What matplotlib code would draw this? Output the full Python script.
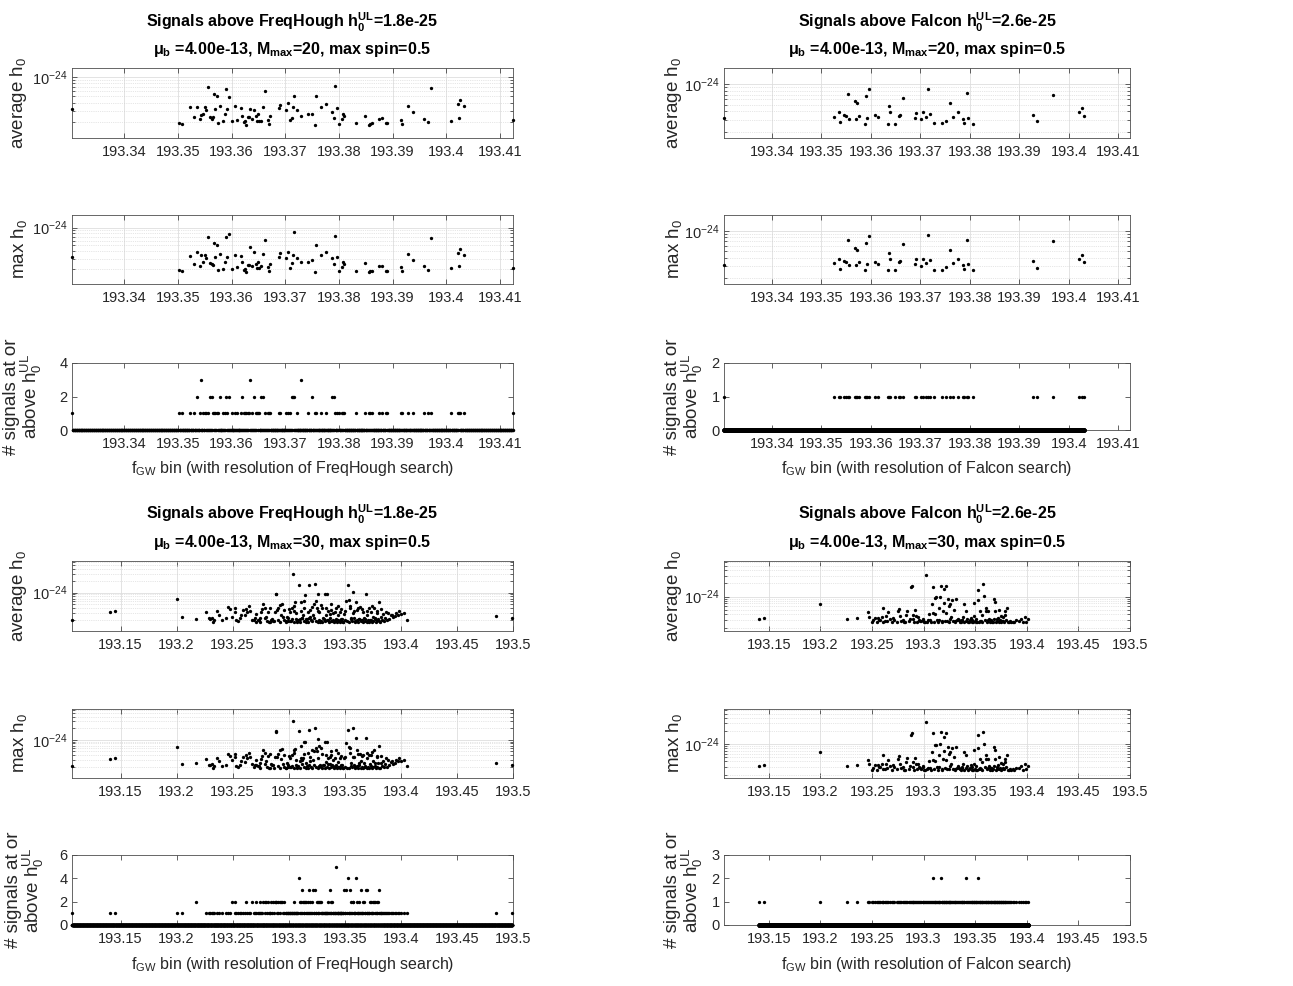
"""
Signals above the FreqHough / Falcon upper limits, per frequency bin
"""

import numpy as np
import matplotlib.pyplot as plt
from matplotlib.ticker import FixedLocator, LogLocator, LogFormatterMathtext, NullFormatter
from matplotlib.transforms import ScaledTranslation

plt.rcParams['font.family'] = ['Liberation Sans', 'DejaVu Sans']
plt.rcParams['mathtext.fontset'] = 'custom'
plt.rcParams['mathtext.rm'] = 'Liberation Sans'
plt.rcParams['mathtext.it'] = 'Liberation Sans:italic'
plt.rcParams['mathtext.bf'] = 'Liberation Sans:bold'
plt.rcParams['mathtext.default'] = 'regular'

# ---------------- FreqHough, M_max = 20 (log10 h0) ----------------
fh20_freq = [193.3303, 193.3502, 193.3508, 193.3523, 193.3530, 193.3536, 193.3541, 193.3544, 193.3547, 193.3551,
             193.3553, 193.3556, 193.3560, 193.3563, 193.3565, 193.3568, 193.3570, 193.3573, 193.3575, 193.3578,
             193.3585, 193.3587, 193.3590, 193.3592, 193.3596, 193.3600, 193.3607, 193.3610, 193.3617, 193.3620,
             193.3623, 193.3626, 193.3627, 193.3630, 193.3632, 193.3635, 193.3638, 193.3642, 193.3645, 193.3647,
             193.3650, 193.3651, 193.3654, 193.3658, 193.3663, 193.3667, 193.3670, 193.3672, 193.3689, 193.3691,
             193.3702, 193.3705, 193.3709, 193.3712, 193.3714, 193.3717, 193.3721, 193.3730, 193.3743, 193.3750,
             193.3756, 193.3758, 193.3767, 193.3775, 193.3787, 193.3790, 193.3793, 193.3797, 193.3800, 193.3805,
             193.3807, 193.3810, 193.3832, 193.3849, 193.3855, 193.3857, 193.3861, 193.3875, 193.3880, 193.3888,
             193.3890, 193.3915, 193.3917, 193.3928, 193.3937, 193.3959, 193.3966, 193.3971, 193.4009, 193.4021,
             193.4023, 193.4025, 193.4033, 193.4124]
fh20_avg = [-24.493, -24.714, -24.735, -24.472, -24.619, -24.472, -24.651, -24.593, -24.577, -24.467,
            -24.509, -24.152, -24.625, -24.651, -24.630, -24.257, -24.493, -24.289, -24.719, -24.457,
            -24.693, -24.577, -24.184, -24.493, -24.310, -24.693, -24.457, -24.672, -24.483, -24.604,
            -24.709, -24.693, -24.745, -24.625, -24.630, -24.499, -24.651, -24.509, -24.609, -24.688,
            -24.577, -24.688, -24.682, -24.462, -24.210, -24.667, -24.735, -24.614, -24.488, -24.430,
            -24.514, -24.409, -24.677, -24.646, -24.472, -24.289, -24.509, -24.609, -24.572, -24.572,
            -24.745, -24.289, -24.467, -24.415, -24.541, -24.640, -24.136, -24.488, -24.735, -24.656,
            -24.583, -24.614, -24.724, -24.604, -24.745, -24.735, -24.724, -24.651, -24.640, -24.724,
            -24.724, -24.667, -24.735, -24.446, -24.541, -24.651, -24.709, -24.168, -24.688, -24.420,
            -24.646, -24.362, -24.457, -24.677]
fh20_max = [-24.493, -24.714, -24.735, -24.472, -24.619, -24.419, -24.651, -24.458, -24.577, -24.467,
            -24.509, -24.152, -24.600, -24.620, -24.630, -24.257, -24.493, -24.289, -24.719, -24.440,
            -24.693, -24.577, -24.160, -24.493, -24.101, -24.693, -24.457, -24.672, -24.483, -24.580,
            -24.709, -24.693, -24.745, -24.625, -24.630, -24.335, -24.651, -24.413, -24.609, -24.688,
            -24.577, -24.688, -24.648, -24.440, -24.210, -24.667, -24.735, -24.614, -24.488, -24.430,
            -24.514, -24.409, -24.677, -24.598, -24.460, -24.078, -24.509, -24.581, -24.572, -24.542,
            -24.745, -24.289, -24.467, -24.415, -24.514, -24.615, -24.136, -24.488, -24.735, -24.656,
            -24.583, -24.614, -24.724, -24.604, -24.745, -24.735, -24.724, -24.651, -24.640, -24.724,
            -24.724, -24.667, -24.735, -24.446, -24.541, -24.651, -24.709, -24.168, -24.688, -24.420,
            -24.646, -24.362, -24.457, -24.677]
fh20_count = [1, 1, 1, 1, 1, 2, 1, 3, 1, 1,
              1, 1, 2, 2, 1, 1, 1, 1, 1, 2,
              1, 1, 2, 1, 2, 1, 1, 1, 1, 2,
              1, 1, 1, 1, 1, 3, 1, 2, 1, 1,
              1, 1, 2, 2, 1, 1, 1, 1, 1, 1,
              1, 1, 1, 2, 2, 2, 1, 3, 1, 2,
              1, 1, 1, 1, 2, 2, 1, 1, 1, 1,
              1, 1, 1, 1, 1, 1, 1, 1, 1, 1,
              1, 1, 1, 1, 1, 1, 1, 1, 1, 1,
              1, 1, 1, 1]

# ---------------- Falcon, M_max = 20 (one signal per bin: max = avg) ----------------
fa20_freq = [193.3303, 193.3525, 193.3536, 193.3538, 193.3546, 193.3550, 193.3554, 193.3556, 193.3567, 193.3571,
             193.3569, 193.3577, 193.3588, 193.3590, 193.3592, 193.3597, 193.3608, 193.3615, 193.3635, 193.3637,
             193.3639, 193.3649, 193.3657, 193.3659, 193.3664, 193.3689, 193.3691, 193.3701, 193.3705, 193.3712,
             193.3716, 193.3720, 193.3728, 193.3743, 193.3751, 193.3759, 193.3767, 193.3776, 193.3786, 193.3788,
             193.3794, 193.3797, 193.3807, 193.3928, 193.3936, 193.3969, 193.4020, 193.4026, 193.4031]
fa20_avg = [-24.501, -24.476, -24.416, -24.560, -24.451, -24.461, -24.139, -24.506, -24.248, -24.278,
            -24.506, -24.461, -24.580, -24.174, -24.491, -24.079, -24.456, -24.486, -24.580, -24.327,
            -24.412, -24.580, -24.466, -24.446, -24.198, -24.491, -24.426, -24.516, -24.412, -24.481,
            -24.069, -24.436, -24.575, -24.575, -24.535, -24.283, -24.476, -24.412, -24.511, -24.570,
            -24.129, -24.491, -24.585, -24.451, -24.545, -24.154, -24.416, -24.357, -24.461]
fa20_max = fa20_avg
fa20_count = [1] * 49

# ---------------- FreqHough, M_max = 30 ----------------
fh30_freq = [193.1067, 193.1408, 193.1450, 193.1999, 193.2052, 193.2177, 193.2266, 193.2289, 193.2301, 193.2313,
             193.2325, 193.2331, 193.2361, 193.2408, 193.2444, 193.2461, 193.2473, 193.2494, 193.2518, 193.2533,
             193.2550, 193.2568, 193.2592, 193.2607, 193.2616, 193.2628, 193.2645, 193.2669, 193.2711, 193.2726,
             193.2740, 193.2755, 193.2770, 193.2785, 193.2800, 193.2815, 193.2823, 193.2844, 193.2859, 193.2874,
             193.2883, 193.2889, 193.2895, 193.2907, 193.2918, 193.2933, 193.2942, 193.2954, 193.2972, 193.2984,
             193.2996, 193.3007, 193.3019, 193.3031, 193.3037, 193.3049, 193.3058, 193.3067, 193.3076, 193.3088,
             193.3096, 193.3105, 193.3114, 193.3126, 193.3135, 193.3144, 193.3156, 193.3168, 193.3180, 193.3185,
             193.3194, 193.3203, 193.3215, 193.3230, 193.3239, 193.3245, 193.3251, 193.3263, 193.3272, 193.3280,
             193.3292, 193.3304, 193.3319, 193.3328, 193.3334, 193.3343, 193.3352, 193.3364, 193.3375, 193.3387,
             193.3399, 193.3411, 193.3423, 193.3435, 193.3447, 193.3458, 193.3470, 193.3482, 193.3494, 193.3512,
             193.3527, 193.3536, 193.3547, 193.3559, 193.3571, 193.3577, 193.3589, 193.3601, 193.3613, 193.3625,
             193.3636, 193.3648, 193.3660, 193.3672, 193.3690, 193.3702, 193.3714, 193.3726, 193.3737, 193.3749,
             193.3761, 193.3773, 193.3785, 193.3797, 193.3809, 193.3820, 193.3838, 193.3862, 193.3886, 193.3909,
             193.3933, 193.3957, 193.3987, 193.4004, 193.4028, 193.4052, 193.4847, 193.4995]
fh30_avg = [-24.695, -24.502, -24.469, -24.176, -24.619, -24.669, -24.502, -24.653, -24.669, -24.636,
            -24.736, -24.695, -24.477, -24.695, -24.653, -24.360, -24.418, -24.619, -24.502, -24.695,
            -24.720, -24.653, -24.444, -24.569, -24.418, -24.485, -24.335, -24.695, -24.736, -24.695,
            -24.653, -24.502, -24.301, -24.402, -24.611, -24.485, -24.736, -24.695, -24.720, -24.485,
            -24.050, -24.025, -24.444, -24.402, -24.318, -24.569, -24.301, -24.444, -24.736, -24.611,
            -24.720, -24.485, -24.711, -24.385, -23.523, -24.469, -24.234, -24.527, -24.736, -23.799,
            -24.669, -24.234, -24.636, -24.569, -24.218, -24.067, -24.669, -24.485, -24.653, -23.816,
            -24.611, -24.360, -24.569, -23.774, -24.218, -24.720, -24.402, -24.033, -24.502, -24.736,
            -24.318, -24.653, -24.050, -24.569, -24.402, -24.050, -24.695, -24.552, -24.444, -24.720,
            -24.527, -24.720, -24.402, -24.569, -24.720, -24.485, -24.661, -24.736, -24.536, -24.218,
            -23.816, -24.201, -24.402, -24.653, -24.527, -23.983, -24.720, -24.251, -24.444, -24.669,
            -24.360, -24.703, -24.485, -24.653, -24.033, -24.569, -24.402, -24.695, -24.485, -24.611,
            -24.385, -24.653, -24.527, -24.669, -24.234, -24.611, -24.552, -24.636, -24.527, -24.569,
            -24.619, -24.527, -24.469, -24.552, -24.519, -24.695, -24.594, -24.653]
fh30_max = [-24.695, -24.502, -24.469, -24.176, -24.619, -24.608, -24.502, -24.653, -24.669, -24.636,
            -24.736, -24.695, -24.477, -24.695, -24.653, -24.360, -24.418, -24.522, -24.450, -24.695,
            -24.720, -24.653, -24.444, -24.569, -24.392, -24.485, -24.335, -24.620, -24.660, -24.695,
            -24.600, -24.502, -24.262, -24.349, -24.550, -24.430, -24.736, -24.640, -24.660, -24.440,
            -23.804, -23.769, -24.444, -24.360, -24.270, -24.500, -24.250, -24.400, -24.736, -24.611,
            -24.720, -24.485, -24.711, -24.385, -23.523, -24.262, -24.234, -24.527, -24.736, -23.769,
            -24.550, -24.175, -24.522, -24.478, -24.046, -24.046, -24.600, -24.349, -24.653, -23.743,
            -24.565, -24.262, -24.522, -23.700, -24.218, -24.720, -24.305, -23.980, -24.175, -24.660,
            -24.219, -24.653, -24.050, -24.569, -24.402, -24.050, -24.620, -24.450, -24.392, -24.650,
            -24.527, -24.720, -24.262, -24.569, -24.720, -24.485, -24.661, -24.736, -24.478, -24.089,
            -23.750, -24.201, -24.219, -24.608, -24.452, -23.700, -24.720, -23.959, -24.262, -24.600,
            -24.360, -24.550, -24.392, -24.608, -23.950, -24.349, -24.402, -24.620, -24.392, -24.565,
            -24.262, -24.608, -24.435, -24.608, -24.150, -24.611, -24.552, -24.636, -24.527, -24.569,
            -24.619, -24.527, -24.469, -24.552, -24.519, -24.695, -24.594, -24.653]
fh30_count = [1, 1, 1, 1, 1, 2, 1, 1, 1, 1,
              1, 1, 1, 1, 1, 1, 1, 2, 2, 1,
              1, 1, 1, 1, 2, 1, 1, 2, 2, 1,
              2, 1, 2, 2, 2, 2, 1, 2, 2, 2,
              2, 2, 1, 2, 2, 2, 2, 2, 1, 1,
              1, 1, 1, 1, 1, 2, 1, 1, 1, 4,
              2, 2, 3, 2, 2, 2, 2, 2, 1, 3,
              2, 2, 3, 3, 1, 1, 2, 2, 2, 2,
              2, 1, 1, 1, 1, 1, 2, 3, 2, 2,
              1, 1, 5, 1, 1, 1, 1, 1, 3, 3,
              4, 1, 3, 2, 2, 2, 1, 4, 2, 2,
              1, 3, 2, 2, 3, 3, 1, 2, 2, 2,
              2, 2, 2, 2, 3, 1, 1, 1, 1, 1,
              1, 1, 1, 1, 1, 1, 1, 1]
# further bins holding a single signal (avg = max)
fh30_single_freq = [193.2380, 193.2520, 193.2575, 193.2655, 193.2690, 193.2700, 193.2705, 193.2735, 193.2748, 193.2760,
                    193.2792, 193.2808, 193.2830, 193.2835, 193.2851, 193.2866, 193.2900, 193.2925, 193.2948, 193.2960,
                    193.2978, 193.2990, 193.3000, 193.3013, 193.3025, 193.3043, 193.3045, 193.3062, 193.3070, 193.3082,
                    193.3100, 193.3110, 193.3120, 193.3132, 193.3140, 193.3150, 193.3162, 193.3174, 193.3190, 193.3198,
                    193.3209, 193.3221, 193.3225, 193.3257, 193.3260, 193.3268, 193.3286, 193.3298, 193.3300, 193.3310,
                    193.3322, 193.3340, 193.3350, 193.3358, 193.3370, 193.3380, 193.3381, 193.3393, 193.3405, 193.3410,
                    193.3417, 193.3429, 193.3440, 193.3441, 193.3453, 193.3464, 193.3465, 193.3476, 193.3488, 193.3500,
                    193.3505, 193.3518, 193.3541, 193.3550, 193.3553, 193.3565, 193.3583, 193.3585, 193.3595, 193.3607,
                    193.3619, 193.3620, 193.3631, 193.3642, 193.3654, 193.3655, 193.3666, 193.3678, 193.3684, 193.3696,
                    193.3700, 193.3708, 193.3720, 193.3731, 193.3743, 193.3745, 193.3755, 193.3767, 193.3779, 193.3790,
                    193.3791, 193.3803, 193.3815, 193.3826, 193.3830, 193.3850, 193.3870, 193.3874, 193.3898, 193.3920,
                    193.3945, 193.3975]
fh30_single_h0 = [-24.560, -24.380, -24.560, -24.460, -24.700, -24.655, -24.530, -24.690, -24.735, -24.420,
                  -24.640, -24.712, -24.745, -24.380, -24.668, -24.725, -24.690, -24.742, -24.630, -24.700,
                  -24.728, -24.650, -24.420, -24.715, -24.680, -24.740, -24.340, -24.660, -24.722, -24.695,
                  -24.745, -24.470, -24.640, -24.708, -24.380, -24.735, -24.672, -24.745, -24.450, -24.700,
                  -24.725, -24.650, -24.300, -24.738, -24.470, -24.690, -24.715, -24.745, -24.380, -24.665,
                  -24.728, -24.700, -24.470, -24.742, -24.645, -24.300, -24.720, -24.690, -24.745, -24.480,
                  -24.668, -24.735, -24.350, -24.705, -24.745, -24.720, -24.420, -24.660, -24.738, -24.700,
                  -24.460, -24.725, -24.745, -24.350, -24.680, -24.715, -24.650, -24.460, -24.740, -24.695,
                  -24.745, -24.380, -24.660, -24.728, -24.700, -24.420, -24.742, -24.675, -24.720, -24.745,
                  -24.470, -24.705, -24.735, -24.690, -24.745, -24.330, -24.718, -24.680, -24.742, -24.700,
                  -24.460, -24.728, -24.745, -24.420, -24.690, -24.720, -24.480, -24.700, -24.665, -24.560,
                  -24.600, -24.560]

# ---------------- Falcon, M_max = 30 ----------------
fa30_freq = [193.1410, 193.1458, 193.1997, 193.2260, 193.2356, 193.2459, 193.2469, 193.2501, 193.2526, 193.2562,
             193.2581, 193.2594, 193.2606, 193.2623, 193.2639, 193.2655, 193.2677, 193.2703, 193.2751, 193.2760,
             193.2773, 193.2799, 193.2818, 193.2831, 193.2841, 193.2869, 193.2879, 193.2889, 193.2895, 193.2908,
             193.2921, 193.2927, 193.2946, 193.2959, 193.2975, 193.2991, 193.3007, 193.3027, 193.3043, 193.3055,
             193.3068, 193.3078, 193.3088, 193.3094, 193.3107, 193.3113, 193.3120, 193.3136, 193.3145, 193.3152,
             193.3161, 193.3168, 193.3177, 193.3190, 193.3197, 193.3203, 193.3216, 193.3222, 193.3229, 193.3238,
             193.3248, 193.3261, 193.3270, 193.3280, 193.3293, 193.3306, 193.3318, 193.3331, 193.3344, 193.3360,
             193.3370, 193.3383, 193.3395, 193.3408, 193.3421, 193.3434, 193.3447, 193.3460, 193.3472, 193.3485,
             193.3492, 193.3504, 193.3517, 193.3524, 193.3530, 193.3543, 193.3556, 193.3569, 193.3575, 193.3588,
             193.3601, 193.3607, 193.3620, 193.3633, 193.3649, 193.3665, 193.3678, 193.3684, 193.3691, 193.3697,
             193.3710, 193.3723, 193.3735, 193.3748, 193.3761, 193.3774, 193.3787, 193.3793, 193.3806, 193.3825,
             193.3851, 193.3877, 193.3896, 193.3941, 193.3979, 193.4011]
fa30_avg = [-24.508, -24.485, -24.177, -24.508, -24.485, -24.354, -24.462, -24.585, -24.485, -24.485,
            -24.523, -24.462, -24.254, -24.562, -24.446, -24.354, -24.508, -24.485, -24.331, -24.277,
            -24.446, -24.523, -24.585, -24.408, -24.316, -24.500, -23.792, -23.754, -24.408, -24.585,
            -24.308, -24.446, -24.462, -24.523, -24.562, -24.508, -24.585, -23.500, -24.539, -24.385,
            -24.585, -24.177, -23.777, -24.370, -24.023, -24.385, -24.008, -24.585, -24.254, -24.523,
            -24.000, -23.754, -24.562, -24.331, -23.831, -24.154, -23.754, -24.370, -24.562, -24.062,
            -24.216, -24.177, -24.462, -24.077, -24.293, -24.562, -24.062, -24.508, -24.539, -24.585,
            -24.539, -24.462, -24.177, -24.331, -24.508, -24.585, -24.539, -24.485, -24.585, -24.446,
            -24.139, -24.585, -24.585, -23.846, -24.077, -24.331, -24.562, -24.408, -23.723, -23.985,
            -24.331, -24.254, -24.331, -24.508, -24.539, -24.585, -24.508, -24.062, -24.123, -24.331,
            -24.562, -24.485, -24.293, -24.431, -24.562, -24.462, -24.331, -24.408, -24.254, -24.585,
            -24.585, -24.585, -24.539, -24.508, -24.462, -24.508]
fa30_max = [-24.508, -24.485, -24.177, -24.508, -24.485, -24.354, -24.462, -24.585, -24.485, -24.485,
            -24.523, -24.462, -24.254, -24.562, -24.446, -24.354, -24.508, -24.485, -24.331, -24.277,
            -24.446, -24.523, -24.585, -24.408, -24.316, -24.500, -23.792, -23.754, -24.408, -24.585,
            -24.308, -24.446, -24.462, -24.523, -24.562, -24.508, -24.585, -23.500, -24.539, -24.385,
            -24.585, -24.177, -23.740, -24.370, -24.023, -24.385, -24.008, -24.585, -24.254, -24.523,
            -24.000, -23.720, -24.562, -24.331, -23.831, -24.154, -23.754, -24.370, -24.562, -24.062,
            -24.216, -24.177, -24.462, -24.077, -24.293, -24.562, -24.062, -24.508, -24.539, -24.585,
            -24.539, -24.462, -24.177, -24.250, -24.508, -24.585, -24.539, -24.485, -24.585, -24.446,
            -24.139, -24.585, -24.585, -23.800, -24.077, -24.331, -24.562, -24.408, -23.723, -23.985,
            -24.331, -24.254, -24.331, -24.508, -24.539, -24.585, -24.508, -24.062, -24.123, -24.331,
            -24.562, -24.485, -24.293, -24.431, -24.562, -24.462, -24.331, -24.408, -24.254, -24.585,
            -24.585, -24.585, -24.539, -24.508, -24.462, -24.508]
fa30_count = [1] * 116
for i in (42, 51, 73, 83):
    fa30_count[i] = 2
fa30_single_freq = [193.2515, 193.2545, 193.2570, 193.2612, 193.2648, 193.2690, 193.2715, 193.2740, 193.2785, 193.2808,
                    193.2855, 193.2900, 193.2935, 193.2968, 193.2998, 193.3016, 193.3035, 193.3062, 193.3100, 193.3128,
                    193.3183, 193.3210, 193.3243, 193.3255, 193.3286, 193.3300, 193.3325, 193.3352, 193.3376, 193.3390,
                    193.3415, 193.3440, 193.3466, 193.3479, 193.3498, 193.3511, 193.3537, 193.3550, 193.3562, 193.3595,
                    193.3614, 193.3627, 193.3641, 193.3657, 193.3671, 193.3704, 193.3716, 193.3729, 193.3742, 193.3755,
                    193.3768, 193.3780, 193.3800, 193.3815, 193.3838, 193.3864, 193.3920, 193.3960, 193.3995]
fa30_single_h0 = [-24.540, -24.585, -24.520, -24.570, -24.555, -24.585, -24.530, -24.578, -24.548, -24.585,
                  -24.560, -24.515, -24.582, -24.550, -24.530, -24.585, -24.565, -24.540, -24.578, -24.520,
                  -24.585, -24.555, -24.575, -24.505, -24.560, -24.585, -24.540, -24.572, -24.525, -24.585,
                  -24.550, -24.580, -24.535, -24.585, -24.560, -24.510, -24.578, -24.545, -24.585, -24.530,
                  -24.570, -24.540, -24.585, -24.555, -24.575, -24.585, -24.515, -24.565, -24.540, -24.585,
                  -24.550, -24.578, -24.530, -24.585, -24.560, -24.575, -24.545, -24.585, -24.570]

# frequency-bin resolution of the two searches
fh_bin_width = 1 / 8192
fa_bin_width = 1 / 32768

xticks_m20 = [193.34, 193.35, 193.36, 193.37, 193.38, 193.39, 193.40, 193.41]
xticks_m30 = [193.15, 193.20, 193.25, 193.30, 193.35, 193.40, 193.45, 193.50]

TXT = '#262626'
W, H = 1293, 986
LABEL_FS = 13.5


def px_axes(fig, left, right, top, bottom):
    """axes from pixel box"""
    return fig.add_axes([left / W, 1 - bottom / H, (right - left) / W, (bottom - top) / H])


def style_axes(ax, xlim, xticks):
    ax.set_xlim(xlim)
    ax.set_xticks(xticks)
    ax.set_xticklabels([f'{t:g}' for t in xticks])
    ax.tick_params(which='both', direction='in', top=True, right=True, colors=TXT,
                   labelsize=10.5, width=0.5)
    ax.tick_params(which='major', length=3.5)
    ax.tick_params(which='minor', length=2)
    ax.tick_params(axis='x', pad=5)
    ax.tick_params(axis='y', pad=3)
    for s in ax.spines.values():
        s.set_linewidth(0.6)
        s.set_color('#4d4d4d')


def h0_panel(ax, freq, log_h0, ylim_log, xlim, xticks, ylabel, label_x):
    ax.plot(freq, 10.0 ** np.asarray(log_h0), 'o', ms=2.4, mew=0, color='k', clip_on=False, zorder=3)
    ax.set_yscale('log')
    ax.set_ylim(10.0 ** ylim_log[0], 10.0 ** ylim_log[1])
    style_axes(ax, xlim, xticks)
    ax.yaxis.set_major_locator(FixedLocator([1e-24]))
    ax.yaxis.set_major_formatter(LogFormatterMathtext())
    ax.yaxis.set_minor_locator(LogLocator(base=10, subs=np.arange(2, 10)))
    ax.yaxis.set_minor_formatter(NullFormatter())
    ax.grid(True, which='major', color='#dedede', lw=0.6)
    ax.grid(True, which='minor', axis='y', color='#cfcfcf', lw=0.5, ls=':')
    ax.set_axisbelow(True)
    ax.set_ylabel(ylabel, fontsize=LABEL_FS, color=TXT)
    ax.yaxis.set_label_coords(label_x, 0.5)


def count_panel(ax, freq, count, bin_width, zero_ms, ymax, xlim, xticks, search, label_x):
    freq = np.asarray(freq)
    bins = np.arange(freq.min(), freq.max() + bin_width / 2, bin_width)
    hit = np.any(np.abs(bins[:, None] - freq[None, :]) < bin_width / 2, axis=1)
    ax.plot(bins[~hit], np.zeros(np.sum(~hit)), 'o', ms=zero_ms, mew=0, color='k',
            clip_on=False, zorder=3)
    ax.plot(freq, count, 'o', ms=2.4, mew=0, color='k', clip_on=False, zorder=3)
    ax.set_ylim(0, ymax)
    ax.set_yticks(range(0, ymax + 1, 2 if ymax > 3 else 1))
    style_axes(ax, xlim, xticks)
    ax.set_ylabel('# signals at or\nabove h$_0^{UL}$', fontsize=LABEL_FS, color=TXT, linespacing=0.95)
    ax.yaxis.set_label_coords(label_x, 0.5)
    ax.set_xlabel('f$_{GW}$ bin (with resolution of ' + search + ' search)', fontsize=11.5, color=TXT)
    ax.xaxis.set_label_coords(0.5, -0.43)


def add_title(fig, ax, search, ul, mmax):
    line1 = 'Signals above ' + search + r' $\mathbf{h_0^{UL}}$=' + ul
    line2 = r'$\mu_\mathbf{b}$ =4.00e-13, M$_\mathbf{max}$=' + mmax + ', max spin=0.5'
    for txt, dy in ((line1, 0.41), (line2, 0.14)):
        ax.text(0.5, 1, txt, transform=ax.transAxes + ScaledTranslation(0, dy, fig.dpi_scale_trans),
                ha='center', va='baseline', fontsize=11.5, fontweight='bold', color='k')


def main():
    fig = plt.figure(figsize=(W / 100, H / 100), dpi=100)

    lim20 = (193.3303, 193.4124)
    lim30 = (193.1067, 193.4995)
    cols = [(72, 513), (724, 1130)]
    rows = [(68, 138), (215, 284), (363, 430), (561, 631), (709, 778), (855, 925)]

    # single-signal bins join the full lists
    fh30_f = fh30_freq + fh30_single_freq
    fh30_a = fh30_avg + fh30_single_h0
    fh30_m = fh30_max + fh30_single_h0
    fh30_c = fh30_count + [1] * len(fh30_single_freq)
    fa30_f = fa30_freq + fa30_single_freq
    fa30_a = fa30_avg + fa30_single_h0
    fa30_m = fa30_max + fa30_single_h0
    fa30_c = fa30_count + [1] * len(fa30_single_freq)

    # top block: M_max = 20
    L, R = cols[0]
    a1 = px_axes(fig, L, R, *rows[0])
    h0_panel(a1, fh20_freq, fh20_avg, (-24.955, -23.853), lim20, xticks_m20, 'average h$_0$', -0.098)
    add_title(fig, a1, 'FreqHough', '1.8e-25', '20')
    a2 = px_axes(fig, L, R, *rows[1])
    h0_panel(a2, fh20_freq, fh20_max, (-24.950, -23.788), lim20, xticks_m20, 'max h$_0$', -0.098)
    a3 = px_axes(fig, L, R, *rows[2])
    count_panel(a3, fh20_freq, fh20_count, fh_bin_width, 2.5, 4, lim20, xticks_m20, 'FreqHough', -0.064)

    L, R = cols[1]
    b1 = px_axes(fig, L, R, *rows[0])
    h0_panel(b1, fa20_freq, fa20_avg, (-24.790, -23.765), lim20, xticks_m20, 'average h$_0$', -0.099)
    add_title(fig, b1, 'Falcon', '2.6e-25', '20')
    b2 = px_axes(fig, L, R, *rows[1])
    h0_panel(b2, fa20_freq, fa20_max, (-24.790, -23.765), lim20, xticks_m20, 'max h$_0$', -0.099)
    b3 = px_axes(fig, L, R, *rows[2])
    count_panel(b3, fa20_freq, fa20_count, fa_bin_width, 3.2, 2, lim20, xticks_m20, 'Falcon', -0.046)

    # bottom block: M_max = 30
    L, R = cols[0]
    c1 = px_axes(fig, L, R, *rows[3])
    h0_panel(c1, fh30_f, fh30_a, (-24.971, -23.205), lim30, xticks_m30, 'average h$_0$', -0.098)
    add_title(fig, c1, 'FreqHough', '1.8e-25', '30')
    c2 = px_axes(fig, L, R, *rows[4])
    h0_panel(c2, fh30_f, fh30_m, (-24.997, -23.198), lim30, xticks_m30, 'max h$_0$', -0.098)
    c3 = px_axes(fig, L, R, *rows[5])
    count_panel(c3, fh30_f, fh30_c, fh_bin_width, 2.5, 6, lim30, xticks_m30, 'FreqHough', -0.058)

    L, R = cols[1]
    d1 = px_axes(fig, L, R, *rows[3])
    h0_panel(d1, fa30_f, fa30_a, (-24.778, -23.192), lim30, xticks_m30, 'average h$_0$', -0.099)
    add_title(fig, d1, 'Falcon', '2.6e-25', '30')
    d2 = px_axes(fig, L, R, *rows[4])
    h0_panel(d2, fa30_f, fa30_m, (-24.778, -23.192), lim30, xticks_m30, 'max h$_0$', -0.099)
    d3 = px_axes(fig, L, R, *rows[5])
    count_panel(d3, fa30_f, fa30_c, fa_bin_width, 3.2, 3, lim30, xticks_m30, 'Falcon', -0.046)

    fig.savefig('out.png', dpi=100)


if __name__ == '__main__':
    main()
